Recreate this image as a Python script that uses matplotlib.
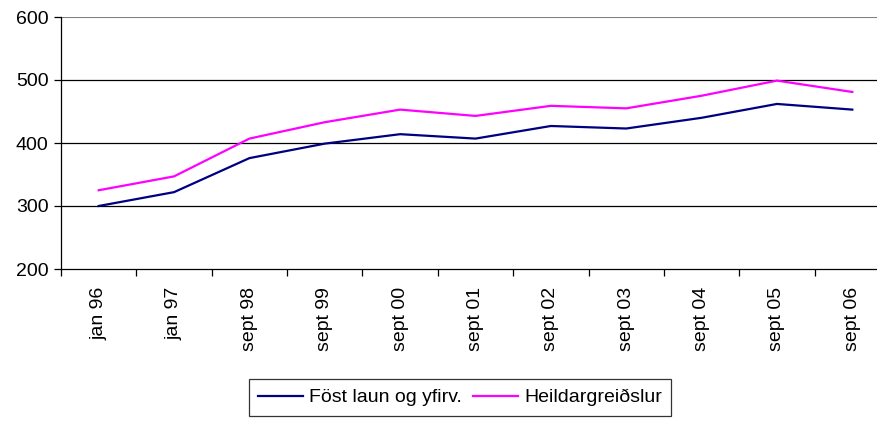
import numpy as np
import matplotlib.pyplot as plt

plt.rcParams['font.family'] = ['Liberation Sans', 'DejaVu Sans']

categories = ["jan 96", "jan 97", "sept 98", "sept 99", "sept 00", "sept 01",
              "sept 02", "sept 03", "sept 04", "sept 05", "sept 06"]
fost_laun = [300, 322, 376, 399, 414, 407, 427, 423, 440, 462, 453]
heildar = [325, 347, 407, 433, 453, 443, 459, 455, 475, 499, 481]

W, H = 878, 421
fig = plt.figure(figsize=(W / 100, H / 100), dpi=100)
ax = fig.add_axes([61 / W, (H - 269) / H, (890 - 61) / W, (269 - 17) / H])

x = np.arange(len(categories))
ax.plot(x, fost_laun, color='#000080', lw=1.6, label='Föst laun og yfirv.')
ax.plot(x, heildar, color='#FF00FF', lw=1.6, label='Heildargreiðslur')

ax.set_xlim(-0.5, len(categories) - 0.5)
ax.set_ylim(200, 600)
ax.set_yticks([200, 300, 400, 500, 600])
for v in [300, 400, 500]:
    ax.axhline(v, color='black', lw=0.9, zorder=0)
ax.axhline(600, color='#808080', lw=1.5, zorder=0)

ax.set_xticks(np.arange(len(categories) + 1) - 0.5)
ax.set_xticklabels([])
ax.set_xticks(x, minor=True)
ax.set_xticklabels(categories, minor=True, rotation=90, fontsize=14)
ax.tick_params(axis='x', which='major', length=5, direction='out', width=0.9)
ax.tick_params(axis='x', which='minor', length=0, pad=13)
ax.tick_params(axis='y', length=5, width=0.9, labelsize=14, pad=4)

for s in ['top', 'right']:
    ax.spines[s].set_visible(False)
ax.spines['left'].set_linewidth(0.9)
ax.spines['bottom'].set_linewidth(0.9)

leg = fig.legend(loc='upper center', bbox_to_anchor=(460 / W, 1 - 379 / H), ncol=2,
                 fontsize=14, frameon=True, fancybox=False, edgecolor='black',
                 handlelength=2.3, columnspacing=0.6, handletextpad=0.3,
                 borderpad=0.5, borderaxespad=0)
leg.get_frame().set_linewidth(0.9)

fig.savefig('out.png', dpi=100)
